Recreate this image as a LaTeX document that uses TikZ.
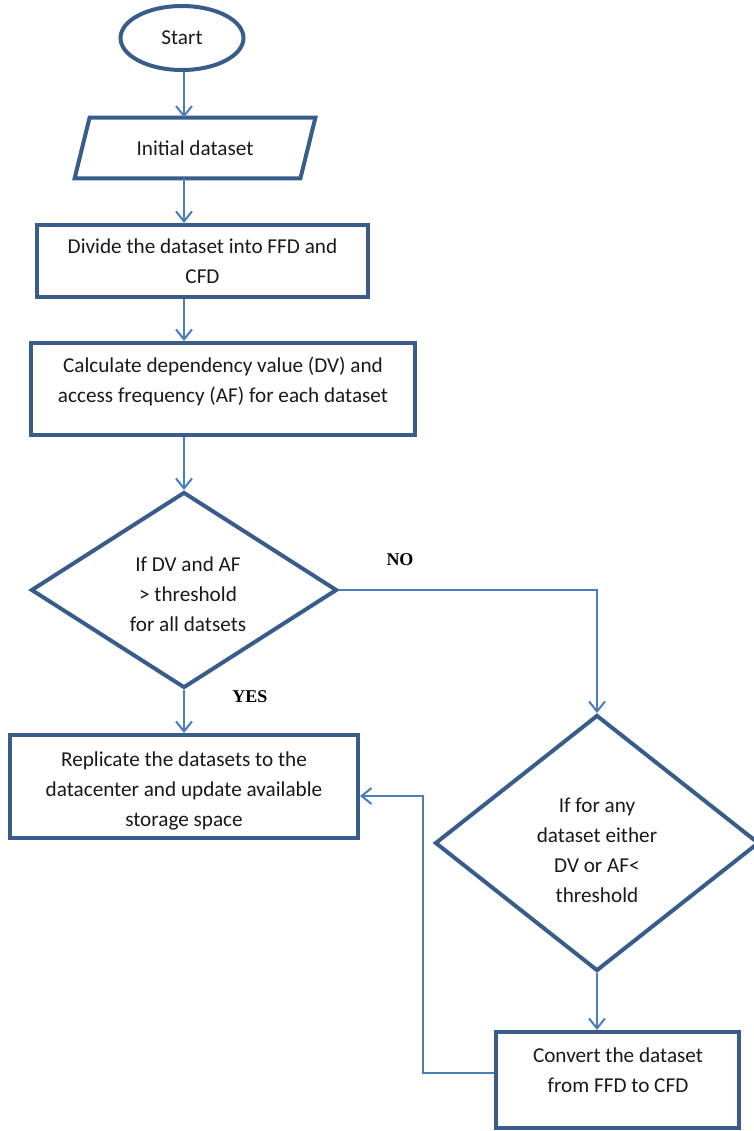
\documentclass[tikz,border=0pt]{standalone}
\usepackage{fontspec}
\setmainfont{Carlito}
\newfontfamily\labelfont{Liberation Serif}
\usetikzlibrary{shapes.geometric,arrows.meta}
\definecolor{boxblue}{HTML}{385D8A}
\definecolor{linkblue}{HTML}{4A7EBB}
\begin{document}
\begin{tikzpicture}[x=0.5pt,y=-0.5pt,
  every node/.style={font=\fontsize{10.6}{15}\selectfont, text=black!90},
  outline/.style={draw=boxblue, line width=2pt, line join=miter},
  shapebox/.style={outline, inner sep=0pt},
  conn/.style={draw=linkblue, line width=1pt, -{Straight Barb[length=5pt,width=8pt]}},
  txt/.style={align=center, inner sep=0pt},
  lab/.style={font=\labelfont\bfseries\fontsize{9}{11}\selectfont, text=black}
]
\useasboundingbox (0,0) rectangle (754,1131);

% vertical guide column of the main flow
\coordinate (col) at (184,0);

% start terminal
\node[shapebox, ellipse, minimum width=61.5pt, minimum height=32pt] (start) at (182,38) {Start};

% input (parallelogram)
\node[txt, minimum width=120pt, minimum height=30pt] (ds) at (195,148) {Initial dataset};
\draw[outline] ([xshift=7.5pt]ds.north west) -- (ds.north east)
  -- ([xshift=-7.5pt]ds.south east) -- (ds.south west) -- cycle;

% process boxes
\node[shapebox, minimum width=165.5pt, minimum height=36pt, align=center] (divide) at (202.5,261)
  {Divide the dataset into FFD and\\CFD};

\node[shapebox, minimum width=192pt, minimum height=46pt] (calc) at (223,389) {};
\node[txt] (calct) at (223,381) {Calculate dependency value (DV) and\\access frequency (AF) for each dataset};

% first decision
\node[shapebox, diamond, aspect=1.56, minimum width=153pt, minimum height=98pt] (dec1) at (184,590) {};
\node[txt] (dec1t) at (188,594) {If DV and AF\\> threshold\\for all datsets};

% replication box
\node[shapebox, minimum width=174pt, minimum height=51.5pt] (repl) at (184,786.5) {};
\node[txt] (replt) at (184,791) {Replicate the datasets to the\\datacenter and update available\\storage space};

% second decision
\node[shapebox, diamond, aspect=1.27, minimum width=162pt, minimum height=128pt] (dec2) at (597,843) {};
\node[txt] (dec2t) at (597,850) {If for any\\dataset either\\DV or AF<\\threshold};

% conversion box
\node[shapebox, minimum width=121.5pt, minimum height=48pt] (conv) at (617.5,1080) {};
\node[txt] (convt) at (618,1070.5) {Convert the dataset\\from FFD to CFD};

% branch labels
\node[lab] (no) at (400,560) {NO};
\node[lab] (yes) at (250,697) {YES};

% connectors
\draw[conn] (start.south -| col) -- (ds.north -| col);
\draw[conn] (ds.south -| col) -- (divide.north -| col);
\draw[conn] (divide.south -| col) -- (calc.north -| col);
\draw[conn] (calc.south -| col) -- (dec1.north);
\draw[conn] (dec1.south) -- (repl.north -| dec1.south);
\draw[conn] (dec1.east) -| (dec2.north);
\draw[conn] (dec2.south) -- (dec2.south |- conv.north);

% loop back from conversion to replication
\coordinate (fbA) at (423,1073);
\coordinate (fbB) at (423,796);
\draw[conn] (conv.west |- fbA) -- (fbA) -- (fbB) -- (fbB -| repl.east);
\end{tikzpicture}
\end{document}
